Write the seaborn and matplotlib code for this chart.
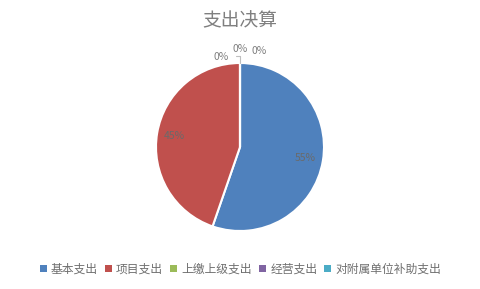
import matplotlib
matplotlib.use("Agg")
import matplotlib.pyplot as plt
import seaborn as sns
import numpy as np
from matplotlib.patches import Patch

sns.set_theme(style="white")
plt.rcParams['font.family'] = ['Noto Sans CJK SC', 'DejaVu Sans']

categories = ["基本支出", "项目支出", "上缴上级支出", "经营支出", "对附属单位补助支出"]
values = [55.3, 44.7, 0.0, 0.0, 0.0]
colors = ["#4F81BD", "#C0504D", "#9BBB59", "#8064A2", "#4BACC6"]
title = "支出决算"

W, H = 481, 289
fig = plt.figure(figsize=(W / 100, H / 100), dpi=100)
fig.patch.set_facecolor("white")

cx, cy, r = 240, 147, 84
ax = fig.add_axes([(cx - r) / W, (H - cy - r) / H, 2 * r / W, 2 * r / H])
ax.axis("off")

wedges, texts = ax.pie(values, colors=colors, startangle=90, counterclock=False,
                       radius=1, wedgeprops=dict(edgecolor="white", linewidth=1.5))
ax.set_xlim(-1, 1)
ax.set_ylim(-1, 1)

total = sum(values)
pcts = [f"{round(v / total * 100):.0f}%" for v in values]
angle = 90
zero_pos = [(-0.22, 1.07), (0.0, 1.17), (0.23, 1.14)]
zi = 0
for v, p in zip(values, pcts):
    span = v / total * 360
    mid = np.deg2rad(angle - span / 2)
    angle -= span
    if v > 0:
        x, y = 0.79 * np.cos(mid), 0.79 * np.sin(mid)
        col = "#6A6A6A"
    else:
        x, y = zero_pos[zi]
        zi += 1
        col = "#7F7F7F"
    ax.text(x, y, p, ha="center", va="center", fontsize=7.5, color=col, clip_on=False)

ax.plot([0, 0], [1.0, 1.08], color="#BFBFBF", lw=0.8, clip_on=False)
ax.plot([-0.05, 0], [1.08, 1.08], color="#BFBFBF", lw=0.8, clip_on=False)

fig.text(cx / W, 1 - 21 / H, title, ha="center", va="center", fontsize=13.5, color="#7F7F7F")

handles = [Patch(facecolor=c, edgecolor="none") for c in colors]
fig.legend(handles, categories, loc="center", bbox_to_anchor=(0.5, 1 - 269 / H), ncol=5,
           frameon=False, fontsize=8.5, labelcolor="#6F6F6F", handlelength=0.6, handleheight=0.6,
           handletextpad=0.35, columnspacing=0.6)

fig.savefig("out.png", dpi=100, facecolor="white")
